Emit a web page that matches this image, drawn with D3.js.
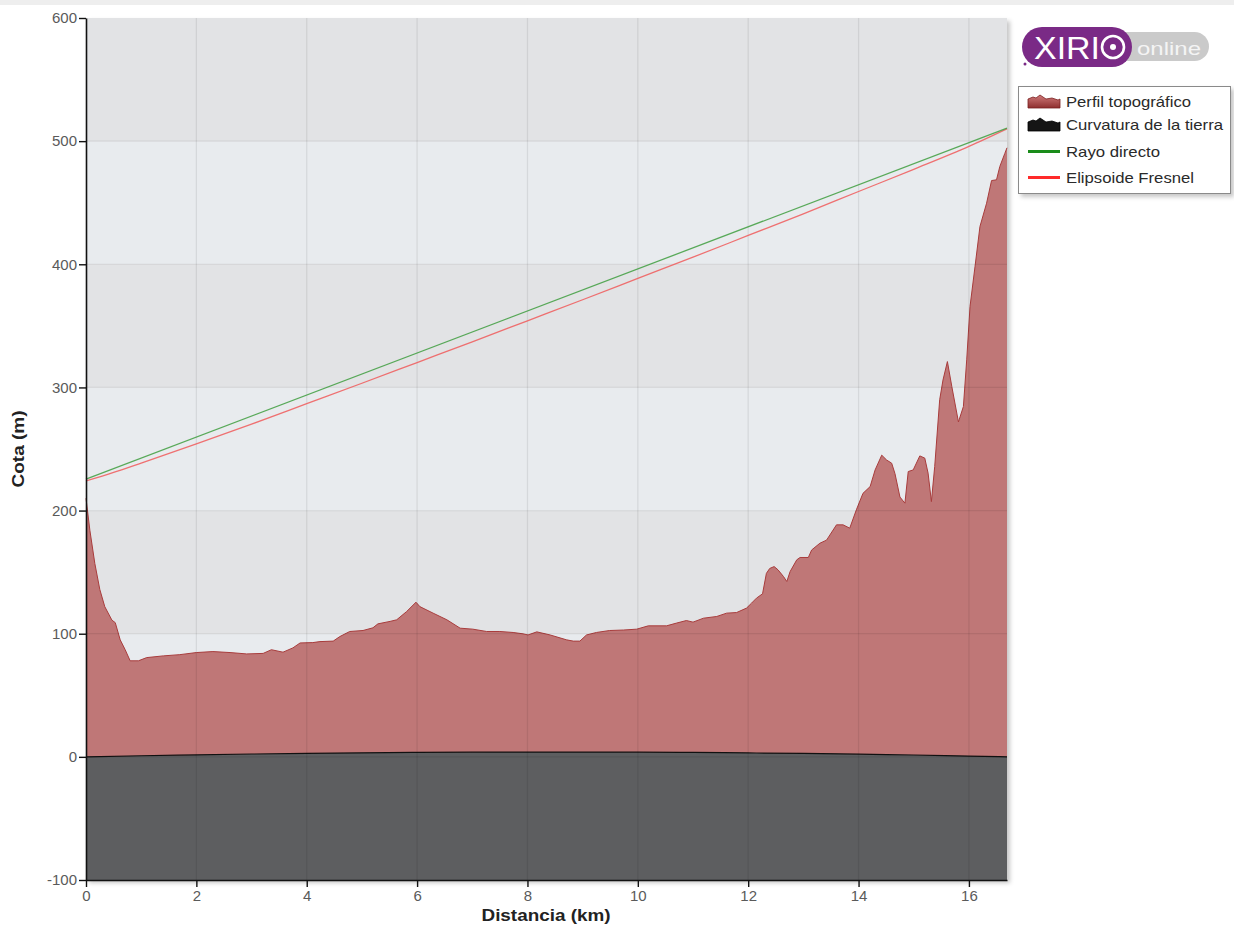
<!DOCTYPE html>
<html><head><meta charset="utf-8">
<script src="https://cdn.jsdelivr.net/npm/d3@7"></script>
<style>body{margin:0;background:#fff}svg{display:block}</style>
</head><body><svg id="c" width="1234" height="929"></svg>
<script>
// ---- data ----
const terrainKm = [0,0.07,0.16,0.25,0.34,0.47,0.53,0.62,0.71,0.80,0.95,1.10,1.40,1.70,2.00,2.30,2.61,2.91,3.21,3.36,3.57,3.75,3.88,4.11,4.24,4.48,4.60,4.78,5.02,5.20,5.29,5.51,5.63,5.81,5.98,6.05,6.29,6.54,6.78,7.01,7.26,7.50,7.74,7.92,8.01,8.17,8.41,8.71,8.83,8.95,9.07,9.25,9.49,9.74,9.98,10.19,10.52,10.70,10.88,11.00,11.19,11.43,11.61,11.79,11.97,12.06,12.15,12.26,12.33,12.39,12.47,12.54,12.64,12.70,12.76,12.88,12.94,13.09,13.15,13.30,13.42,13.60,13.72,13.84,13.96,14.08,14.21,14.30,14.42,14.51,14.60,14.66,14.75,14.84,14.90,14.99,15.11,15.20,15.26,15.32,15.38,15.47,15.53,15.61,15.69,15.81,15.90,15.96,16.02,16.11,16.20,16.32,16.41,16.50,16.56,16.65,16.69];
const terrainM = [210,184,157,136,122,111,109,95,87,78,78,80.6,82,83,84.7,85.5,84.7,83.6,84,87,85,88.5,92.5,92.8,93.6,94,97.7,101.8,102.6,104.8,108,110,111.3,118,125.6,122,116.7,111.3,104.5,103.7,101.8,101.8,101,99.9,99,101.5,99,95,94,94,99,101,102.6,103,103.7,106.4,106.4,108.6,110.7,109.4,112.6,114,116.7,117.2,120.8,124.8,128.9,132.4,149,153,154.5,151.9,146.4,142.4,150.5,160,161.9,161.9,168,173.5,176,188.4,188.4,185.7,200.6,214,219.5,233,245,241,238.5,230,211,206,231.7,233,244.4,242.6,230.4,207.3,235.8,290,306,321,300.7,272,284.5,322.4,365.7,398,430.7,449.6,468,468.6,479.4,490,494.6];

const curvKm = [0,1,2,3,4,5,6,7,8,9,10,11,12,13,14,15,16,16.69];
const curvM  = [0,0.9,1.6,2.3,2.8,3.3,3.6,3.8,3.9,3.9,3.8,3.6,3.2,2.8,2.2,1.5,0.6,0];

const rayKm = [0, 16.69];
const rayM  = [225.5, 510.5];

const fresnelKm = [0,0.5,1,2,3,4,5,6,7,8,9,10,11,12,13,14,15,16,16.69];
const fresnelM  = [224,231,238.6,254.2,270.2,286.8,303.4,320.2,337,354.1,371.2,388.5,405.8,423.4,441,459.1,477.1,495.7,510];

const xTicks = [0,2,4,6,8,10,12,14,16];
const yTicks = [-100,0,100,200,300,400,500,600];
const legendLabels = ["Perfil topográfico","Curvatura de la tierra","Rayo directo","Elipsoide Fresnel"];
const xTitle = "Distancia (km)";
const yTitle = "Cota (m)";

// ---- drawing ----
const svg = d3.select("#c");
const FONT = "'Liberation Sans', Arial, sans-serif";
const x = d3.scaleLinear().domain([0,16.69]).range([86,1007]);
const y = d3.scaleLinear().domain([-100,600]).range([880,18]);

const defs = svg.append("defs");
const f = defs.append("filter").attr("id","sh").attr("x","-5%").attr("y","-5%").attr("width","115%").attr("height","115%");
f.append("feDropShadow").attr("dx",3).attr("dy",3).attr("stdDeviation",2).attr("flood-color","#000").attr("flood-opacity",0.22);
const gr = defs.append("linearGradient").attr("id","redIcon").attr("x1",0).attr("y1",0).attr("x2",0).attr("y2",1);
gr.append("stop").attr("offset","0%").attr("stop-color","#d07a7a");
gr.append("stop").attr("offset","100%").attr("stop-color","#8e2e2e");

svg.append("rect").attr("x",0).attr("y",0).attr("width",1234).attr("height",5).attr("fill","#eeeeee");

// plot shadow
svg.append("rect").attr("x",x(0)).attr("y",y(600)).attr("width",x(16.69)-x(0)).attr("height",y(-100)-y(600))
  .attr("fill","#fff").attr("filter","url(#sh)");

// bands
const bands = d3.range(-100,600,100);
svg.append("g").selectAll("rect").data(bands).join("rect")
  .attr("x",x(0)).attr("width",x(16.69)-x(0))
  .attr("y",d=>y(d+100)).attr("height",d=>y(d)-y(d+100))
  .attr("fill",d=>(((500-d)/100)%2===0)?"#e2e3e5":"#e8ebee");

// terrain area
const pts = terrainKm.map((k,i)=>[k,terrainM[i]]);
svg.append("path").datum(pts)
  .attr("d",d3.area().x(d=>x(d[0])).y0(y(-100)).y1(d=>y(d[1])))
  .attr("fill","#bf7777");
svg.append("path").datum(pts)
  .attr("d",d3.line().x(d=>x(d[0])).y(d=>y(d[1])))
  .attr("fill","none").attr("stroke","#a83c3c").attr("stroke-width",1);

// earth curvature
const cpts = curvKm.map((k,i)=>[k,curvM[i]]);
svg.append("path").datum(cpts)
  .attr("d",d3.area().x(d=>x(d[0])).y0(y(-100)).y1(d=>y(d[1])).curve(d3.curveMonotoneX))
  .attr("fill","#5d5e60");
svg.append("path").datum(cpts)
  .attr("d",d3.line().x(d=>x(d[0])).y(d=>y(d[1])).curve(d3.curveMonotoneX))
  .attr("fill","none").attr("stroke","#111").attr("stroke-width",1.2);

// grid lines
const grid = svg.append("g").attr("stroke","rgba(0,0,0,0.08)").attr("stroke-width",1.3);
grid.selectAll("line.v").data(xTicks.filter(d=>d>0)).join("line").attr("class","v")
  .attr("x1",d=>x(d)).attr("x2",d=>x(d)).attr("y1",y(600)).attr("y2",y(-100));
grid.selectAll("line.h").data(yTicks.filter(d=>d>-100 && d<600)).join("line").attr("class","h")
  .attr("x1",x(0)).attr("x2",x(16.69)).attr("y1",d=>y(d)).attr("y2",d=>y(d));

// fresnel + ray
svg.append("path").datum(fresnelKm.map((k,i)=>[k,fresnelM[i]]))
  .attr("d",d3.line().x(d=>x(d[0])).y(d=>y(d[1])).curve(d3.curveMonotoneX))
  .attr("fill","none").attr("stroke","#f05a5a").attr("stroke-width",1.3).attr("opacity",0.85);
svg.append("path").datum(rayKm.map((k,i)=>[k,rayM[i]]))
  .attr("d",d3.line().x(d=>x(d[0])).y(d=>y(d[1])))
  .attr("fill","none").attr("stroke","#3e9e3e").attr("stroke-width",1.3).attr("opacity",0.85);

// axes
const ax = svg.append("g").attr("transform",`translate(0,${y(-100)})`)
  .call(d3.axisBottom(x).tickValues(xTicks).tickFormat(d=>String(d)).tickSize(7).tickPadding(3).tickSizeOuter(0));
const ay = svg.append("g").attr("transform",`translate(${x(0)},0)`)
  .call(d3.axisLeft(y).tickValues(yTicks).tickFormat(d=>String(d)).tickSize(7).tickPadding(2).tickSizeOuter(0));
[ax,ay].forEach(g=>{
  g.select(".domain").attr("stroke","#111").attr("stroke-width",1.6);
  g.selectAll(".tick line").attr("stroke","#111").attr("stroke-width",1.4);
  g.selectAll(".tick text").attr("font-family",FONT).attr("font-size",15).attr("fill","#5a5a5a");
});

svg.append("text").attr("x",546).attr("y",921).attr("text-anchor","middle")
  .attr("font-family",FONT).attr("font-weight","bold").attr("font-size",16).attr("fill","#222")
  .attr("textLength",129).attr("lengthAdjust","spacingAndGlyphs").text(xTitle);
svg.append("text").attr("transform","translate(24,449) rotate(-90)").attr("text-anchor","middle")
  .attr("font-family",FONT).attr("font-weight","bold").attr("font-size",16).attr("fill","#222")
  .attr("textLength",77).attr("lengthAdjust","spacingAndGlyphs").text(yTitle);

// logo
const logo = svg.append("g");
logo.append("rect").attr("x",1098).attr("y",32).attr("width",111).attr("height",29).attr("rx",14.5).attr("fill","#cacaca");
logo.append("rect").attr("x",1022).attr("y",27).attr("width",110).attr("height",40).attr("rx",20).attr("fill","#7a2a86");
logo.append("text").attr("x",1034).attr("y",59).attr("font-family",FONT).attr("font-size",31).attr("fill","#fff")
  .attr("textLength",66).attr("lengthAdjust","spacingAndGlyphs").text("XIRI");
logo.append("circle").attr("cx",1113).attr("cy",47).attr("r",11).attr("fill","none").attr("stroke","#fff").attr("stroke-width",2.6);
logo.append("circle").attr("cx",1113).attr("cy",47).attr("r",3).attr("fill","#fff");
logo.append("text").attr("x",1137).attr("y",55).attr("font-family",FONT).attr("font-size",19).attr("fill","#f4f4f4")
  .attr("textLength",64).attr("lengthAdjust","spacingAndGlyphs").text("online");
logo.append("circle").attr("cx",1025).attr("cy",64).attr("r",1.5).attr("fill","#7a2a86");

// legend
const lg = svg.append("g");
lg.append("rect").attr("x",1018.5).attr("y",86.5).attr("width",212).attr("height",107)
  .attr("fill","#fff").attr("stroke","#8a8a8a").attr("stroke-width",1).attr("filter","url(#sh)");
const rowsY = [102,125,151.5,177.5];
const mountain = (cy)=>`M1028,${cy+6} L1028,${cy-3} L1033,${cy-5} L1036,${cy-4} L1040,${cy-7} L1046,${cy-3} L1052,${cy-4} L1058,${cy-2} L1060,${cy-3} L1060,${cy+6} Z`;
lg.append("path").attr("d",mountain(rowsY[0])).attr("fill","url(#redIcon)").attr("stroke","#7a2020").attr("stroke-width",0.8);
lg.append("path").attr("d",mountain(rowsY[1])).attr("fill","#151515").attr("stroke","#000").attr("stroke-width",0.8);
lg.append("line").attr("x1",1028).attr("x2",1060).attr("y1",rowsY[2]).attr("y2",rowsY[2]).attr("stroke","#1a8c1a").attr("stroke-width",3);
lg.append("line").attr("x1",1028).attr("x2",1060).attr("y1",rowsY[3]).attr("y2",rowsY[3]).attr("stroke","#ff2a2a").attr("stroke-width",3);
const widths = [125,157,94,128];
lg.selectAll("text").data(legendLabels).join("text")
  .attr("x",1066).attr("y",(d,i)=>rowsY[i]+5)
  .attr("font-family",FONT).attr("font-size",15).attr("fill","#2a2a2a")
  .attr("textLength",(d,i)=>widths[i]).attr("lengthAdjust","spacingAndGlyphs")
  .text(d=>d);
</script></body></html>
